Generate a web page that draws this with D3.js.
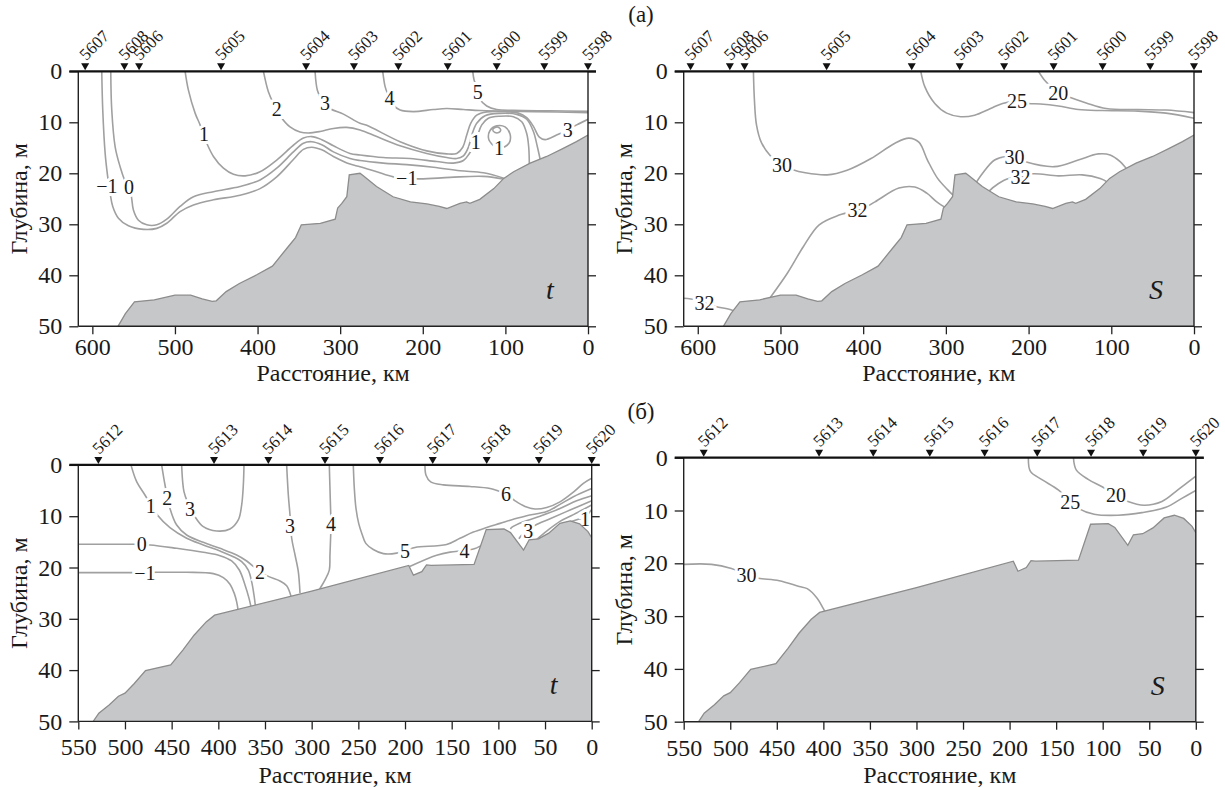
<!DOCTYPE html>
<html><head><meta charset="utf-8">
<script src="https://cdn.jsdelivr.net/npm/d3@7"></script>
<style>
body{margin:0;background:#fff}
svg text{font-family:"Liberation Serif","Tinos","Times New Roman","DejaVu Serif",serif;fill:#1a1a1a}
</style></head><body>
<svg id="c" width="1225" height="788"></svg>
<script>
// ---------- DATA ----------
const topTicks = [600,500,400,300,200,100,0];
const botTicks = [550,500,450,400,350,300,250,200,150,100,50,0];
const depthTicks = [0,10,20,30,40,50];

const topStations = ["5607","5608","5606","5605","5604","5603","5602","5601","5600","5599","5598"];
const topStationKm = [608.7,561.2,543.4,444.2,341.3,283.3,229.6,169.8,110.5,52.9,0];
const botStations = ["5612","5613","5614","5615","5616","5617","5618","5619","5620"];
const botStationKm = [528.5,404.6,346.4,285.7,226.8,170.3,112.5,56.5,0];

// bottom relief [km, depth m]
const bathyTop = [[569,50],[560,47.5],[549,45.2],[525,44.8],[500,43.9],[481,43.9],[467,44.6],[455,45.1],[450,45],[438,43.2],[422,41.6],[401,39.9],[382,38.2],[363,34.4],[354,32.6],[347,30.1],[324,29.8],[306,29],[303,26.8],[298,25.9],[292,24.6],[289,20.3],[276,20.0],[272,20.5],[256,22.6],[236,24.6],[215,25.6],[195,26.0],[180,26.5],[171,26.9],[155,25.9],[147,25.6],[143,25.9],[131,25.1],[114,23.0],[102,21.0],[90,19.7],[70,18.0],[50,16.7],[30,15.1],[14,13.8],[0,12.5]];
const bathyBot = [[534,50],[528,48.4],[517,46.8],[507,45.1],[500,44.5],[490,42.6],[478,40.1],[451,39.0],[438,36.1],[426,33.2],[413,30.6],[404,29.3],[300,24.6],[196,19.6],[191,21.5],[182,20.8],[177,19.5],[172,19.6],[126,19.4],[113,12.6],[94,12.5],[87,13.2],[73,16.6],[67,14.6],[57,14.4],[46,13.3],[34,11.4],[23,10.9],[13,11.5],[4,13.0],[0,14.2]];

// (a) temperature isolines
const tTopM1 = [[588.6,0],[587.4,7.6],[584.5,16.1],[581.7,20.3],[578.5,23.9],[575.3,26.5],[568.4,28.8],[556.3,30.3],[538.1,31.0],[522,30.8],[509.9,29.8],[493.8,27.5],[477.6,26.2],[453.4,25.2],[421.2,24.3],[397,23.0],[376.8,20.7],[356.6,17.3],[344.5,15.3],[334.4,14.9],[322.3,15.4],[308.2,16.7],[288.1,18.2],[275.9,18.7],[255.7,19.7],[235.5,20.7],[205.3,21.1],[167,20.8],[126.6,20.6],[99,21.2]];
const tTop0 = [[577.7,0],[576.5,7.6],[572.4,14.8],[566.4,18.7],[560.3,21.6],[553.5,23.9],[550.3,27.2],[544.2,29.2],[534.1,30.1],[522,30.1],[509.9,29.0],[493.8,26.5],[477.6,24.6],[453.4,23.6],[421.2,22.6],[397,21.3],[376.8,19.0],[356.6,15.8],[344.5,14.1],[334.4,13.8],[322.3,14.4],[308.2,15.8],[288.1,17.1],[275.9,17.5],[247.7,18.0],[219.4,18.3],[187.2,18.8],[154.9,19.5],[126.6,19.9],[101,21]];
const tTop1 = [[487.7,0],[483.7,3.7],[475.6,8.2],[469.6,10.5],[461.5,14.1],[453.4,16.7],[441.3,19.0],[429.2,20.2],[415.1,20.5],[397,19.7],[376.8,17.4],[356.6,14.5],[344.5,13.1],[334.4,12.8],[322.3,13.4],[308.2,14.6],[288.1,16.1],[275.9,16.4],[247.7,16.9],[215.4,17.1],[183.1,17.7],[163,18.0],[150.8,17.5],[143.6,16.1],[138.7,14.8],[133.9,12.7],[128.6,10.5],[120.6,9.2],[106.5,8.8],[90.3,8.9],[80.2,9.9],[74.2,12.2],[71.8,14.8],[71,18.5]];
const tTop2 = [[392.9,0],[386.9,4.0],[380.8,6.3],[371.9,8.9],[360.7,10.9],[348.6,11.9],[338.5,12.1],[324.3,11.8],[308.2,11.2],[292.1,11.0],[275.9,11.5],[255.7,12.8],[227.5,14.6],[195.2,16.1],[171,16.9],[158.9,17.1],[150.8,16.6],[144.8,14.9],[140.7,12.5],[134.7,10.2],[124.6,8.7],[106.5,8.25],[86.3,8.45],[74.2,9.4],[66.1,11.8],[61.3,14.8],[58,17.2]];
const tTop3 = [[330.4,0],[327.6,3.7],[322.3,5.6],[312.2,7.3],[296.1,8.4],[276,10.2],[267.8,10.6],[227.5,13.8],[195.2,15.6],[171,16.2],[158.9,16.1],[151.6,14.9],[146.8,12.5],[142,10.2],[134.7,8.6],[122.6,7.95],[98.4,7.95],[84.3,8.2],[74.2,9.1],[66.1,10.8],[58.9,12.9],[52,13.4],[38,12.5],[25.8,11.6],[13.7,10.5],[0,9.4]];
const tTop4 = [[248.5,0],[245.6,3.0],[242.8,4.3],[235.5,6.6],[227.5,7.6],[211.4,7.9],[187.2,7.5],[171,7.3],[150.8,7.5],[130.7,7.7],[106.5,7.8],[66.1,7.9],[0,8.1]];
const tTop5 = [[139.5,0],[137.9,1.7],[135.5,2.7],[130.7,5.5],[122.6,6.8],[110.5,7.5],[90.3,7.65],[45.9,7.75],[0,7.85]];
const tTopLoop = [[114.5,14.6],[120.2,13.3],[118.6,11.6],[110.5,10.7],[100.4,10.9],[94.4,12.3],[95.2,14.0],[101.6,14.9]];
const tTopTiny = [[115.3,11.5],[113.3,11.1],[109.7,10.9],[106.5,11.2],[105.7,11.6],[108.1,12.0],[112.5,12.0]];
const tTopLabels = [[582.5,22.5,"−1"],[555.5,22.6,"0"],[464.7,12.2,"1"],[376.8,7.3,"2"],[318.3,6.3,"3"],[240.4,5.3,"4"],[133.5,4.0,"5"],[135.9,13.8,"1"],[107.7,15.1,"1"],[24.5,11.6,"3"],[219.4,21.0,"−1"]];

// (a) salinity isolines
const sTop30a = [[532.7,0],[531.5,5.6],[529,10.5],[523,14],[512,16.6],[498,18.3],[485,19.3],[470,19.9],[443.5,20.3],[419.4,19.4],[390.5,17.1],[361.6,14.1],[344.7,13.1],[332.7,13.9],[322,17.5],[310,21.0],[298,23.2],[290,24.5]];
const sTop32a = [[513.4,44.6],[491.7,39.6],[472.4,34.4],[453.2,30.1],[429.1,28.2],[407,27.2],[400.1,26.9],[385.7,25.6],[356.8,22.9],[337.5,22.7],[323.1,23.9],[311,25.6],[300,26.8]];
const sTop32b = [[617,44.5],[602.5,44.8],[592,45.4],[578.4,46.1],[559.2,46.8],[550,47.4]];
const sTop25 = [[330.3,0],[325.5,3.0],[313.4,6.3],[299,8.2],[282.1,8.9],[265.2,8.6],[246,7.3],[231.5,6.3],[214.6,5.9],[200.2,6.3],[185.7,6.4],[164,6.8],[139.9,7.5],[111,7.7],[67.6,7.8],[33.9,8.2],[0,9.2]];
const sTop20 = [[188.1,0],[180.9,1.7],[173.6,2.9],[164,4.2],[152,5.0],[130.3,6.2],[106.2,7.3],[67.6,7.5],[33.9,7.6],[0,8.1]];
const sTop30b = [[266,22.5],[255.6,20.0],[241.1,17.4],[226.7,16.7],[217,16.9],[205,17.7],[168.8,18.7],[139.9,17.4],[115.8,16.2],[101.4,16.4],[89.3,17.7],[82.1,19.0],[77,20]];
const sTop32c = [[251,24.2],[248.4,23.6],[236.3,22.0],[224.2,21.0],[209.8,20.8],[195.3,20.1],[164,20.5],[135.1,20.3],[113.4,21.0],[106.2,21.6],[103,22.2]];
const sTopLabels = [[498,18.3,"30"],[407,27.2,"32"],[592,45.4,"32"],[214,5.9,"25"],[164,4.2,"20"],[217,16.9,"30"],[209.8,20.8,"32"]];

// (б) temperature isolines
const tBotM1 = [[550,21.0],[492.8,21.0],[464.3,20.94],[433.9,20.94],[405.3,21.2],[394.6,21.98],[387.5,23.28],[382.9,25.04],[380.4,26.66],[378.6,28.6]];
const tBot0 = [[550,15.48],[491,15.48],[473.2,15.6],[444.6,16.26],[416.1,17.04],[398.2,17.69],[385.7,18.73],[377.5,20.49],[371.4,23.41],[367.1,26.01],[364.6,28.0]];
const tBot1 = [[493.6,0],[487.5,3.27],[478.6,5.87],[465.3,9.77],[451.8,12.24],[433.9,14.3],[416.1,15.6],[398.2,16.78],[383.9,17.89],[375,18.86],[367.9,20.49],[364.3,22.76],[361.8,25.36],[360,27.9]];
const tBot2 = [[460.7,0],[457.1,3.92],[451.8,8.47],[444.6,11.72],[433.9,13.67],[416.1,15.09],[398.2,16.26],[380.4,17.56],[369.6,18.73],[360.7,20.03],[348.2,21.59],[333.9,22.63],[326.8,23.54],[322.1,25.6]];
const tBot3a = [[439.3,0],[438.2,3.27],[436.8,5.22],[433.2,7.17],[425,10.1],[416.1,12.04],[401.8,12.88],[387.5,12.5],[378.6,10.74],[375,7.82],[373.2,3.92],[372.5,0]];
const tBot3b = [[326.8,0],[325,5.86],[323.2,9.77],[321.4,14.3],[317.8,17.56],[314.3,20.81],[312.5,25.0]];
const tBot4a = [[281.1,0],[280.4,4.57],[279.6,9.44],[279.3,11.5],[279.6,13.67],[280.4,17.56],[281.1,20.5],[285.7,22.4],[290.4,23.9],[292,24.4]];
const tBot5 = [[255.4,0],[254.3,4.6],[252.5,8.5],[249.5,11.5],[246,13.5],[242,15.3],[234,16.5],[223.2,17.3],[208.9,17.2],[200,16.7],[189.3,16.1],[155.4,15.5],[141.1,14.3],[126.8,13.1],[112.5,12.2],[98.2,11.4],[83.9,10.6],[69.7,9.9],[48.2,9.1],[34,7.7],[19.6,6.2],[0,4.6]];
const tBot4b = [[195,19.8],[166.1,17.6],[151.8,17.0],[136.4,16.7],[125,16.3],[117.9,15.7],[115.5,15.6]];
const tBot4c = [[87,12.5],[85.7,12.2],[73.2,11.1],[55.4,10.0],[34,8.5],[16.1,7.0],[0,6.0]];
const tBot3c = [[78,14.4],[73.9,13.5],[67.9,12.9],[60.7,11.8],[44.6,10.5],[23.2,8.8],[0,7.0]];
const tBot2b = [[58.9,14.5],[48.2,12.9],[34,11.0],[19.6,9.7],[0,7.8]];
const tBot1b = [[22.5,11.1],[14.3,10.6],[7.2,10.1],[0,8.7]];
const tBot6 = [[178.6,0],[177.5,2.0],[172.5,3.3],[158.9,3.9],[130.4,4.2],[108.9,4.6],[100,5.1],[91.8,5.7],[82.1,7.0],[71.4,8.1],[60.7,8.6],[48.2,8.3],[34,7.2],[19.6,5.3],[8.9,3.6],[0,2.6]];
const tBotLabels = [[472.5,8.1,"1"],[454.6,6.4,"2"],[430.3,8.5,"3"],[482.1,15.5,"0"],[478.6,21.0,"−1"],[355.3,20.8,"2"],[323.2,12.0,"3"],[279.3,11.5,"4"],[200,16.7,"5"],[136.4,16.7,"4"],[91.8,5.7,"6"],[67.9,12.9,"3"],[7.2,10.6,"1"]];

// (б) salinity isolines
const sBot30 = [[550,20.2],[520.1,20.2],[498.7,21.0],[482.5,22.2],[470.9,22.8],[447.4,23.3],[426,24.4],[417.4,24.8],[406.7,26.6],[400.3,28.5],[397,29.6]];
const sBot25 = [[179.8,0],[177.6,2.6],[164.8,4.2],[147.7,6.1],[134.8,8.3],[126.3,9.6],[109.2,10.7],[83.5,10.9],[57.8,10.4],[32.1,9.4],[15,7.7],[0,6.2]];
const sBot20 = [[131.4,0],[128.4,2.3],[115.6,4.1],[100.6,5.5],[85.6,7.1],[72.8,8.3],[55.6,9.0],[36.4,8.3],[19.3,6.1],[0,3.5]];
const sBotLabels = [[482.5,22.2,"30"],[134.8,8.3,"25"],[85.6,7.1,"20"]];

// ---------- DRAW ----------
const svg = d3.select("#c");
const FONT = '"Liberation Serif","Tinos","Times New Roman","DejaVu Serif",serif';

function panel(cfg){
  const x = d3.scaleLinear().domain(cfg.xDomain).range(cfg.xRange);
  const y = d3.scaleLinear().domain([0,50]).range(cfg.yRange);
  const [x0,x1] = cfg.xRange, [y0,y1] = cfg.yRange;
  const g = svg.append("g");
  const cid = "clip"+cfg.id;
  g.append("clipPath").attr("id",cid).append("rect")
    .attr("x",x0).attr("y",y0).attr("width",x1-x0).attr("height",y1-y0);
  const plot = g.append("g").attr("clip-path",`url(#${cid})`);

  const line = d3.line().x(d=>x(d[0])).y(d=>y(d[1])).curve(d3.curveCatmullRom.alpha(0.5));
  const closed = d3.line().x(d=>x(d[0])).y(d=>y(d[1])).curve(d3.curveCatmullRomClosed.alpha(0.5));

  plot.selectAll("path.iso").data(cfg.lines).join("path").attr("class","iso")
    .attr("d",line).attr("fill","none").attr("stroke","#a0a0a0").attr("stroke-width",1.6);
  if(cfg.loops) plot.selectAll("path.loop").data(cfg.loops).join("path").attr("class","loop")
    .attr("d",closed).attr("fill","none").attr("stroke","#a0a0a0").attr("stroke-width",1.5);

  plot.selectAll("text.lab").data(cfg.labels).join("text").attr("class","lab")
    .attr("x",d=>x(d[0])).attr("y",d=>y(d[1]))
    .attr("text-anchor","middle").attr("dominant-baseline","central")
    .attr("font-size",20).attr("font-family",FONT)
    .attr("stroke","#fff").attr("stroke-width",6).attr("paint-order","stroke")
    .text(d=>d[2]);

  const area = d3.area().x(d=>x(d[0])).y0(y(50)).y1(d=>y(d[1]));
  plot.append("path").datum(cfg.bathy).attr("d",area).attr("fill","#c6c7c9");
  plot.append("path").datum(cfg.bathy)
    .attr("d",d3.line().x(d=>x(d[0])).y(d=>y(d[1])))
    .attr("fill","none").attr("stroke","#8c8c8c").attr("stroke-width",1.3);

  // axes
  const styleAxis = a => {
    a.attr("font-size",null).attr("font-family",null);
    a.select(".domain").remove();
    a.selectAll("line").attr("stroke","#222").attr("stroke-width",1.3);
    a.selectAll("text").attr("font-size",24).attr("font-family",FONT).attr("fill","#1a1a1a");
  };
  g.append("g").attr("transform",`translate(0,${y1})`)
    .call(d3.axisBottom(x).tickValues(cfg.ticks).tickSize(8).tickPadding(cfg.xPad).tickFormat(d3.format("d")))
    .call(styleAxis);
  g.append("g").attr("transform",`translate(${x0},0)`)
    .call(d3.axisLeft(y).tickValues(depthTicks).tickSize(9).tickPadding(7))
    .call(styleAxis);
  g.append("g").attr("transform",`translate(${x1},0)`)
    .call(d3.axisRight(y).tickValues(depthTicks).tickSize(8).tickFormat(""))
    .call(styleAxis);

  // frame
  g.append("line").attr("x1",x0).attr("x2",x0).attr("y1",y0).attr("y2",y1).attr("stroke","#222").attr("stroke-width",1.4);
  g.append("line").attr("x1",x1).attr("x2",x1).attr("y1",y0).attr("y2",y1).attr("stroke","#222").attr("stroke-width",1.4);
  g.append("line").attr("x1",x0).attr("x2",x1).attr("y1",y1).attr("y2",y1).attr("stroke","#222").attr("stroke-width",1.4);
  g.append("line").attr("x1",x0-9).attr("x2",x1+8).attr("y1",y0).attr("y2",y0).attr("stroke","#111").attr("stroke-width",2.2);

  // stations
  const st = g.selectAll("g.st").data(cfg.stKm.map((k,i)=>[k,cfg.stNames[i]])).join("g").attr("class","st");
  st.append("path").attr("d",d=>{const cx=x(d[0]);return `M${cx-4},${y0-8}L${cx+4},${y0-8}L${cx},${y0-1}Z`;}).attr("fill","#111");
  st.append("text").attr("transform",d=>`translate(${x(d[0])+1},${y0-10}) rotate(-45)`)
    .attr("font-size",17).attr("font-family",FONT).text(d=>d[1]);

  // titles
  g.append("text").attr("x",(x0+x1)/2).attr("y",cfg.titleY).attr("text-anchor","middle")
    .attr("font-size",24).attr("font-family",FONT).text("Расстояние, км");
  g.append("text").attr("transform",`translate(${cfg.yTitleX},${(y0+y1)/2}) rotate(-90)`)
    .attr("text-anchor","middle").attr("font-size",24).attr("font-family",FONT).text("Глубина, м");
  g.append("text").attr("x",x1-38).attr("y",y1-27).attr("text-anchor","middle")
    .attr("font-size",28).attr("font-style","italic").attr("font-family",FONT).text(cfg.varName);
}

panel({id:"tl",xDomain:[617,0],xRange:[78.3,588],yRange:[71.3,326.3],ticks:topTicks,xPad:4,
  lines:[tTopM1,tTop0,tTop1,tTop2,tTop3,tTop4,tTop5,tTopLoop],loops:[tTopTiny],labels:tTopLabels,
  bathy:bathyTop,stKm:topStationKm,stNames:topStations,titleY:381,yTitleX:27,varName:"t"});
panel({id:"tr",xDomain:[617,0],xRange:[683.7,1194],yRange:[71.3,326.3],ticks:topTicks,xPad:4,
  lines:[sTop30a,sTop32a,sTop32b,sTop25,sTop20,sTop30b,sTop32c],labels:sTopLabels,
  bathy:bathyTop,stKm:topStationKm,stNames:topStations,titleY:381,yTitleX:632,varName:"S"});
panel({id:"bl",xDomain:[550,0],xRange:[78.3,591.7],yRange:[464.9,721.4],ticks:botTicks,xPad:9,
  lines:[tBotM1,tBot0,tBot1,tBot2,tBot3a,tBot3b,tBot4a,tBot5,tBot4b,tBot4c,tBot3c,tBot2b,tBot1b,tBot6],labels:tBotLabels,
  bathy:bathyBot,stKm:botStationKm,stNames:botStations,titleY:783,yTitleX:27,varName:"t"});
panel({id:"br",xDomain:[550,0],xRange:[683.7,1195.8],yRange:[457.7,721.7],ticks:botTicks,xPad:9,
  lines:[sBot30,sBot25,sBot20],labels:sBotLabels,
  bathy:bathyBot,stKm:botStationKm,stNames:botStations,titleY:783,yTitleX:632,varName:"S"});

svg.append("text").attr("x",641).attr("y",22).attr("text-anchor","middle").attr("font-size",23).attr("font-family",FONT).text("(а)");
svg.append("text").attr("x",641).attr("y",419).attr("text-anchor","middle").attr("font-size",23).attr("font-family",FONT).text("(б)");
</script>
</body></html>
